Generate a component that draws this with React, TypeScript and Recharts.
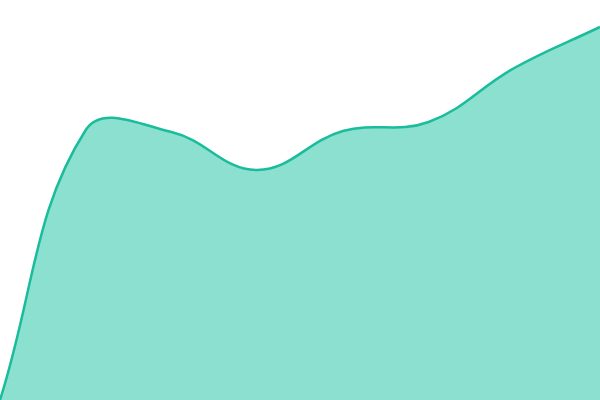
import { AreaChart, Area, XAxis, YAxis } from "recharts";

const categories = ["A", "B", "C", "D", "E", "F", "G", "H"];
const values = [0, 270, 268, 230, 269, 278, 332, 373];

const data = categories.map((name, i) => ({ name, value: values[i] }));

// cardinal-style spline (control points scaled by neighbour distances)
const TENSION = 0.4;
function smoothCurve(context: any) {
  let line = NaN;
  let pts: number[][] = [];
  return {
    areaStart() {
      line = 0;
    },
    areaEnd() {
      line = NaN;
    },
    lineStart() {
      pts = [];
    },
    lineEnd() {
      const n = pts.length;
      if (n) {
        if (line) context.lineTo(pts[0][0], pts[0][1]);
        else context.moveTo(pts[0][0], pts[0][1]);
        const cps = pts.map((cur, i) => {
          const prev = pts[i - 1] || cur;
          const next = pts[i + 1] || cur;
          const d01 = Math.hypot(cur[0] - prev[0], cur[1] - prev[1]);
          const d12 = Math.hypot(next[0] - cur[0], next[1] - cur[1]);
          const sum = d01 + d12 || 1;
          const fa = (TENSION * d01) / sum;
          const fb = (TENSION * d12) / sum;
          return {
            px: cur[0] - fa * (next[0] - prev[0]),
            py: cur[1] - fa * (next[1] - prev[1]),
            nx: cur[0] + fb * (next[0] - prev[0]),
            ny: cur[1] + fb * (next[1] - prev[1]),
          };
        });
        for (let i = 1; i < n; i++) {
          context.bezierCurveTo(
            cps[i - 1].nx,
            cps[i - 1].ny,
            cps[i].px,
            cps[i].py,
            pts[i][0],
            pts[i][1]
          );
        }
      }
      if (line || (line !== 0 && n === 1)) context.closePath();
      line = 1 - line;
    },
    point(x: number, y: number) {
      pts.push([+x, +y]);
    },
  };
}

export default function App() {
  return (
    <div style={{ position: "fixed", left: 0, top: 0, width: 600, height: 400 }}>
      <AreaChart
        width={600}
        height={400}
        data={data}
        margin={{ top: 0, right: 0, bottom: 0, left: 0 }}
      >
        <XAxis dataKey="name" hide />
        <YAxis hide domain={[0, 400]} />
        <Area
          type={smoothCurve as any}
          dataKey="value"
          stroke="#1abc9c"
          strokeWidth={2.5}
          fill="#8be0cf"
          fillOpacity={1}
          activeDot={false}
          isAnimationActive={false}
        />
      </AreaChart>
    </div>
  );
}
